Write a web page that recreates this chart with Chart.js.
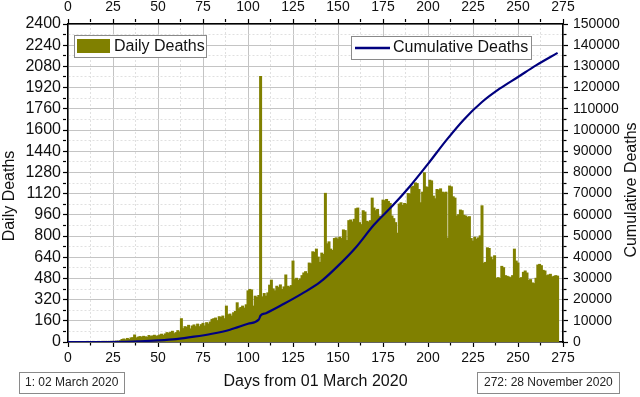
<!DOCTYPE html>
<html>
<head>
<meta charset="utf-8">
<script src="https://cdn.jsdelivr.net/npm/chart.js@4/dist/chart.umd.min.js"></script>
<style>
  body { margin: 0; background: #fff; }
  #wrap { width: 640px; height: 397px; }
</style>
</head>
<body>
<div id="wrap"><canvas id="myChart" width="640" height="397"></canvas></div>
<script>
// daily deaths, day 1 (02 March 2020) .. day 272 (28 November 2020)
var daily_deaths = [
  0, 0, 0, 0, 0, 0, 0, 0, 0, 0,
  1, 0, 0, 1, 0, 0, 1, 0, 1, 1,
  1, 3, 2, 3, 4, 3, 6, 5, 9, 18,
  22, 16, 26, 18, 30, 32, 52, 30, 36, 40,
  35, 42, 38, 35, 48, 40, 45, 50, 42, 46,
  52, 58, 48, 60, 70, 65, 72, 80, 62, 70,
  85, 75, 175, 100, 115, 110, 125, 98, 120, 128,
  115, 134, 115, 130, 140, 120, 145, 135, 150, 170,
  175, 180, 160, 190, 185, 195, 175, 270, 205, 210,
  195, 220, 230, 295, 250, 260, 270, 255, 280, 385,
  396, 392, 270, 345, 335, 350, 2003, 340, 365, 345,
  370, 428, 466, 400, 385, 420, 410, 430, 395, 415,
  505, 420, 415, 425, 610, 470, 480, 465, 475, 500,
  520, 530, 515, 595, 590, 680, 675, 700, 640, 600,
  670, 660, 1121, 740, 755, 700, 690, 780, 785, 775,
  790, 780, 845, 840, 765, 915, 920, 905, 925, 1005,
  1010, 900, 885, 990, 980, 910, 905, 915, 1085, 1010,
  990, 1000, 950, 945, 1070, 1065, 1075, 1060, 1045, 950,
  930, 900, 820, 1040, 1050, 1030, 1045, 1040, 1120, 1115,
  1170, 1175, 1200, 1195, 1150, 1050, 1130, 1276, 1170, 1165,
  1220, 1215, 1100, 1080, 1150, 1145, 1155, 1130, 1125, 1130,
  783, 1176, 1170, 1095, 1085, 950, 960, 995, 990, 955,
  950, 940, 945, 780, 760, 790, 775, 785, 800, 1027,
  594, 600, 710, 705, 640, 620, 650, 480, 485, 478,
  570, 560, 500, 495, 490, 485, 500, 700, 610, 595,
  480, 485, 525, 535, 520, 465, 470, 445, 440, 480,
  580, 585, 575, 540, 535, 500, 505, 510, 490, 495,
  500, 496
]

// cumulative deaths
var cum_days = [0, 10, 20, 30, 40, 50, 60, 70, 80, 90, 100, 106, 107, 110, 120, 130, 140, 150,
  160, 170, 180, 190, 200, 210, 220, 230, 240, 250, 260, 272]
var cum_deaths = [0, 0, 6, 40, 330, 760, 1400, 2500, 3900, 5800, 8600, 10600, 12500, 13600, 18000,
  22800, 28200, 35900, 44700, 55300, 64000, 73500, 84000, 95000, 105000, 113200, 119600, 125000,
  130500, 136400]

var day_ticks = [0, 25, 50, 75, 100, 125, 150, 175, 200, 225, 250, 275]
var daily_ticks = [0, 160, 320, 480, 640, 800, 960, 1120, 1280, 1440, 1600, 1760, 1920, 2080, 2240, 2400]
var cum_ticks = [0, 10000, 20000, 30000, 40000, 50000, 60000, 70000, 80000, 90000, 100000,
  110000, 120000, 130000, 140000, 150000]

var FONT = "'Liberation Sans', Arial, sans-serif"
var OLIVE = '#808000'
var NAVY = '#00007f'

// legends, side titles and the two date boxes
var extras = {
  id: 'extras',
  afterDraw: function(chart) {
    var ctx = chart.ctx
    ctx.save()
    ctx.textBaseline = 'middle'

    // Daily Deaths legend
    box(ctx, 74.5, 35.5, 132, 22)
    ctx.fillStyle = OLIVE
    ctx.fillRect(77, 39, 33, 14)
    ctx.fillStyle = '#111'
    ctx.font = '16px ' + FONT
    ctx.textAlign = 'left'
    ctx.fillText('Daily Deaths', 114, 47)

    // Cumulative Deaths legend
    box(ctx, 351.5, 36.5, 180, 23)
    ctx.strokeStyle = NAVY
    ctx.lineWidth = 2.5
    ctx.beginPath()
    ctx.moveTo(355, 48)
    ctx.lineTo(390, 48)
    ctx.stroke()
    ctx.fillStyle = '#111'
    ctx.fillText('Cumulative Deaths', 393, 48)

    // vertical axis titles
    vtext(ctx, 'Daily Deaths', 10, 196)
    vtext(ctx, 'Cumulative Deaths', 632, 190)

    // date boxes under the axis
    ctx.font = '12px ' + FONT
    box(ctx, 19.5, 372.5, 105, 21)
    ctx.fillStyle = '#222'
    ctx.textAlign = 'left'
    ctx.fillText('1: 02 March 2020', 25, 383)
    box(ctx, 477.5, 372.5, 142, 21)
    ctx.fillStyle = '#222'
    ctx.fillText('272: 28 November 2020', 484, 383)
    ctx.restore()
  }
}

main()

function main() {
  Chart.defaults.font.family = FONT
  Chart.defaults.color = '#111'

  var barData = daily_deaths.map((v, i) => ({ x: i + 1, y: v }))
  var lineData = cum_days.map((d, i) => ({ x: d, y: cum_deaths[i] }))

  var ctx = document.getElementById('myChart')
  new Chart(ctx, {
    type: 'bar',
    data: {
      datasets: [
        {
          label: 'Cumulative Deaths',
          type: 'line',
          data: lineData,
          yAxisID: 'y2',
          borderColor: NAVY,
          borderWidth: 2.2,
          pointRadius: 0,
          cubicInterpolationMode: 'monotone',
          order: 0,
        },
        {
          label: 'Daily Deaths',
          data: barData,
          yAxisID: 'y',
          backgroundColor: OLIVE,
          borderWidth: 0,
          inflateAmount: 0.6,
          barPercentage: 1,
          categoryPercentage: 1,
          order: 1,
        },
      ]
    },
    options: {
      responsive: false,
      animation: false,
      layout: { padding: 0 },
      plugins: { legend: { display: false }, tooltip: { enabled: false } },
      scales: {
        x: axisX('bottom', true),
        x2: axisX('top', false),
        y: axisY('left', daily_ticks, 80, 2400, 16, true),
        y2: axisY('right', cum_ticks, 5000, 150000, 14, false),
      }
    },
    plugins: [extras]
  })
}

function isIn(list, v) {
  return list.indexOf(Math.round(v * 10) / 10) >= 0
}

// major grid solid, minor dashed; minor ticks cut short with a dash
function gridOpts(list, onArea) {
  return {
    drawOnChartArea: onArea,
    offset: false,
    color: c => (c.tick && isIn(list, c.tick.value)) ? '#c4c4c4' : '#e0e0e0',
    lineWidth: 1,
    tickColor: '#000',
    tickLength: 5,
    tickWidth: 1.2,
    tickBorderDash: c => (c.tick && isIn(list, c.tick.value)) ? [] : [3, 20],
  }
}

function axisX(pos, main) {
  var s = {
    type: 'linear',
    position: pos,
    min: 0,
    max: 275,
    offset: false,
    grid: gridOpts(day_ticks, main),
    border: { color: '#000', width: 1.5, dash: c => (c.tick && !isIn(day_ticks, c.tick.value)) ? [2, 2] : [] },
    ticks: {
      stepSize: 12.5,
      autoSkip: false,
      maxRotation: 0,
      padding: 3,
      font: { size: 14 },
      color: '#111',
      callback: v => isIn(day_ticks, v) ? String(v) : '',
    },
    afterFit: sc => { sc.height = pos == 'top' ? 24 : 55 },
  }
  if (main) {
    s.title = { display: true, text: 'Days from 01 March 2020', font: { size: 16 }, color: '#111', padding: { top: 0, bottom: 6 } }
  }
  return s
}

function axisY(pos, list, step, max, size, main) {
  return {
    type: 'linear',
    position: pos,
    min: 0,
    max: max,
    grid: gridOpts(list, main),
    border: { color: '#000', width: 1.5, dash: c => (c.tick && !isIn(list, c.tick.value)) ? [2, 2] : [] },
    ticks: {
      stepSize: step,
      autoSkip: false,
      padding: pos == 'left' ? 2 : 5,
      font: { size: size },
      color: '#111',
      callback: v => isIn(list, v) ? String(v) : '',
    },
    afterFit: sc => { sc.width = pos == 'left' ? 68 : 77 },
  }
}

function box(ctx, x, y, w, h) {
  ctx.fillStyle = '#fff'
  ctx.fillRect(x, y, w, h)
  ctx.strokeStyle = '#8a8a8a'
  ctx.lineWidth = 1
  ctx.strokeRect(x, y, w, h)
}

function vtext(ctx, text, x, y) {
  ctx.save()
  ctx.translate(x, y)
  ctx.rotate(-Math.PI / 2)
  ctx.font = '16px ' + FONT
  ctx.fillStyle = '#111'
  ctx.textAlign = 'center'
  ctx.textBaseline = 'middle'
  ctx.fillText(text, 0, 0)
  ctx.restore()
}
</script>
</body>
</html>
